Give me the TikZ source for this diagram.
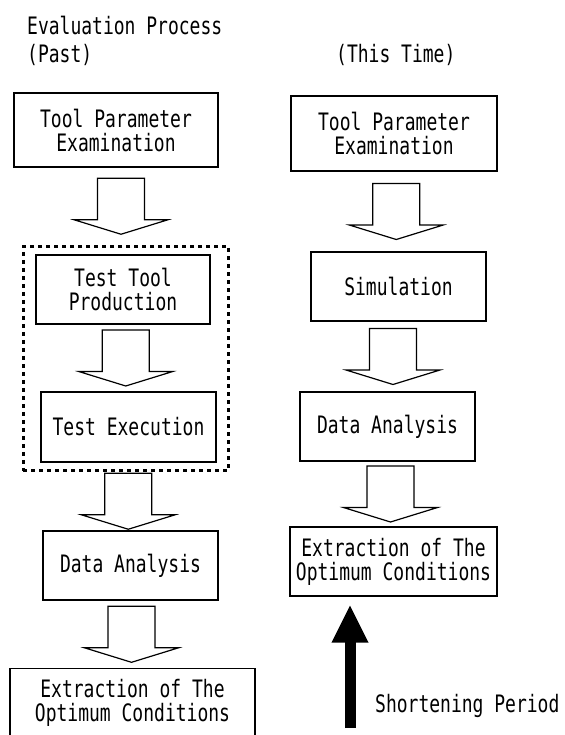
\documentclass[tikz,border=0pt]{standalone}
\usepackage{fontspec}
\newfontfamily\gothic[FakeStretch=0.75]{DejaVu Sans Mono}
\usetikzlibrary{calc,fit,arrows.meta}

% hollow block arrow from one stage down to the next
\newcommand{\flowarrow}[3][]{%
  \path ($(#2.south)!0.5!(#3.north)$) coordinate (m);
  \draw[hollow,#1] ([shift={(-23.5,-28)}]m) -- ([shift={(23.5,-28)}]m)
    -- ([shift={(23.5,13.5)}]m) -- ([shift={(47,13.5)}]m) -- ([shift={(0,28)}]m)
    -- ([shift={(-47,13.5)}]m) -- ([shift={(-23.5,13.5)}]m) -- cycle;
}

\begin{document}
\begin{tikzpicture}[x=1pt,y=-1pt,
  stage/.style={draw,line width=1.2pt,align=center,inner sep=0pt,
    font=\gothic\fontsize{24}{24}\selectfont},
  heading/.style={inner sep=0pt,font=\gothic\fontsize{24}{24}\selectfont},
  hollow/.style={draw,fill=white,line width=1.2pt,line join=miter},
  trialframe/.style={draw,line width=3pt,dash pattern=on 4pt off 4pt}]
\useasboundingbox (0,0) rectangle (564,735);

% headings
\node[heading,anchor=base west] (evalhead) at (27,35) {Evaluation Process};
\node[heading,anchor=base west] (pasthead) at (27,63) {(Past)};
\node[heading,anchor=base west] (nowhead) at (336,63) {(This Time)};

% past process
\node[stage,minimum width=204pt,minimum height=74pt] (past1) at (116,130) {Tool Parameter\\Examination};
\node[stage,minimum width=174pt,minimum height=69pt] (past2) at (123,289.5) {Test Tool\\Production};
\node[stage,minimum width=175pt,minimum height=70pt] (past3) at (128.5,427) {Test Execution};
\node[stage,minimum width=175pt,minimum height=69pt] (past4) at (130.5,565.5) {Data Analysis};
\node[stage,minimum width=245pt,anchor=north,inner ysep=11pt,text depth=30pt] (past5) at (132.5,668) {Extraction of The\\Optimum Conditions};
\node[trialframe,fit=(past2)(past3),inner xsep=12pt,inner ysep=8pt] (trial) {};

\flowarrow[xshift=3.5pt]{past1}{trial}
\flowarrow{past2}{past3}
\flowarrow{trial}{past4}
\flowarrow[xshift=-6.5pt]{past4}{past5}

% this time
\node[stage,minimum width=206pt,minimum height=75pt] (now1) at (394,133.5) {Tool Parameter\\Examination};
\node[stage,minimum width=175pt,minimum height=69pt] (now2) at (398.5,286.5) {Simulation};
\node[stage,minimum width=175pt,minimum height=69pt] (now3) at (387.5,426.5) {Data Analysis};
\node[stage,minimum width=207pt,minimum height=69pt] (now4) at (393.5,561.5) {Extraction of The\\Optimum Conditions};

\flowarrow{now1}{now2}
\flowarrow{now2}{now3}
\flowarrow[xshift=5pt]{now3}{now4}

% shortening arrow
\coordinate (shortbase) at (350,728);
\draw[line width=11pt,-{Triangle[length=38pt,width=34pt]}] (shortbase) -- ($(shortbase |- now4.south)+(0,8)$);
\node[heading,anchor=base west] (shortlabel) at (375,712) {Shortening Period};
\end{tikzpicture}
\end{document}
